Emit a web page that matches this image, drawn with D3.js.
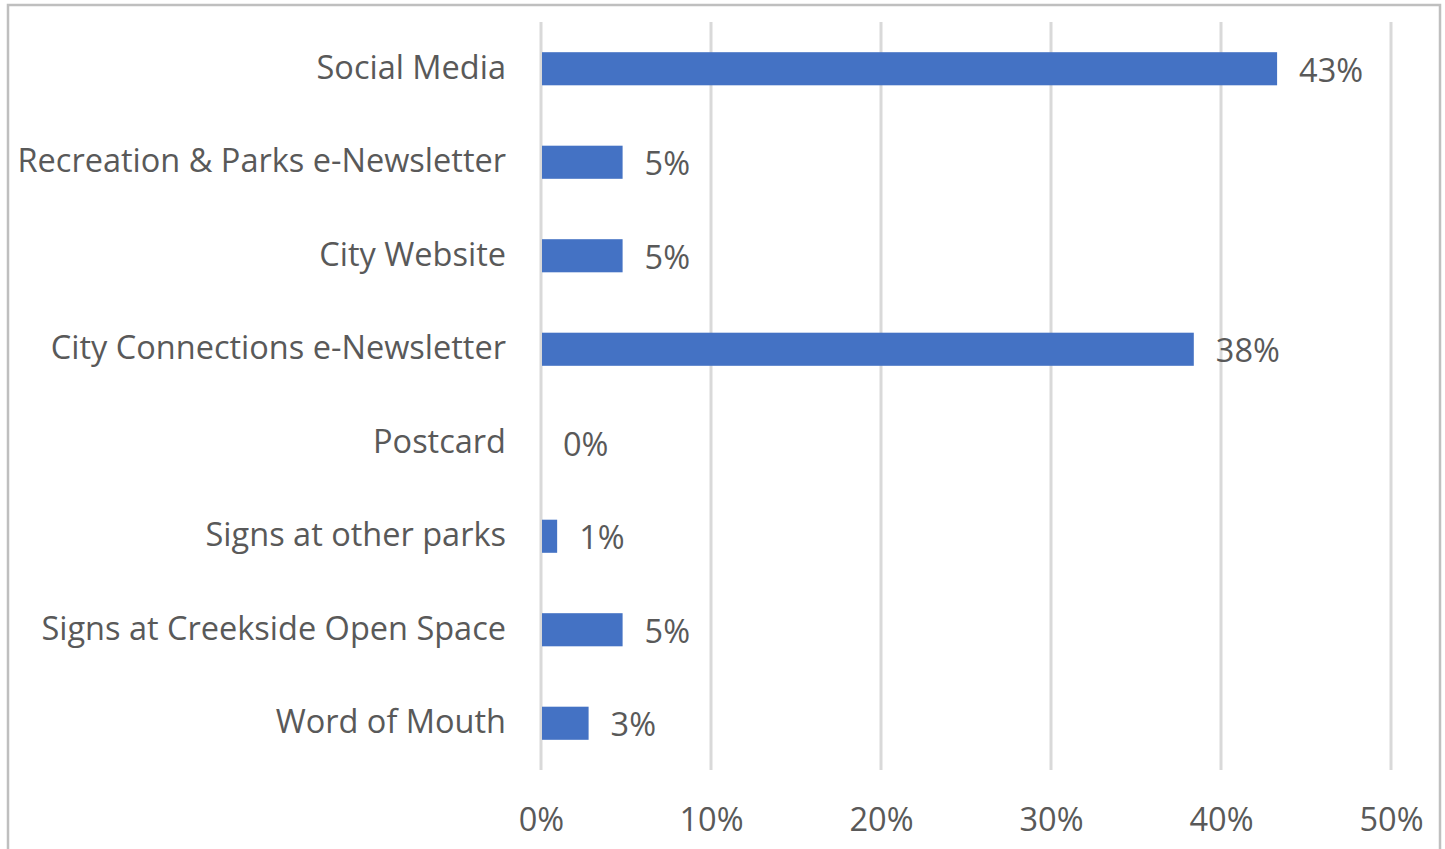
<!DOCTYPE html>
<html>
<head>
<meta charset="utf-8">
<script src="https://cdn.jsdelivr.net/npm/d3@7"></script>
<style>
  body { margin: 0; background: #fff; }
  text { font-family: "Open Sans", "Noto Sans", sans-serif; fill: #595959; }
</style>
</head>
<body>
<div id="chart-area"></div>
<script>
// data
var categories = ["Social Media", "Recreation & Parks e-Newsletter", "City Website",
    "City Connections e-Newsletter", "Postcard", "Signs at other parks",
    "Signs at Creekside Open Space", "Word of Mouth"]
var values = [0.433, 0.048, 0.048, 0.384, 0, 0.0095, 0.048, 0.028]
var valueLabels = ["43%", "5%", "5%", "38%", "0%", "1%", "5%", "3%"]
var ticks = [0, 0.1, 0.2, 0.3, 0.4, 0.5]

var data = categories.map(function(c, i){
    return { name: c, value: values[i], label: valueLabels[i] }
})

var W = 1445, H = 849
var fs = 32.5
var svg = d3.select("#chart-area").append("svg")
    .attr("width", W)
    .attr("height", H)

svg.append("rect").attr("width", W).attr("height", H).attr("fill", "#fff")

// chart border (bottom edge sits below the crop)
svg.append("rect")
    .attr("x", 8).attr("y", 5)
    .attr("width", 1432).attr("height", 900)
    .attr("fill", "none")
    .attr("stroke", "#bfbfbf")
    .attr("stroke-width", 2.5)

var x = d3.scaleLinear().domain([0, 0.5]).range([541, 1391])
var y = d3.scaleBand().domain(categories).range([22, 770])
    .paddingInner(0.646).paddingOuter(0.323)

// vertical gridlines
svg.append("g").selectAll("line")
    .data(ticks)
    .enter().append("line")
    .attr("x1", function(d){ return x(d) })
    .attr("x2", function(d){ return x(d) })
    .attr("y1", 22)
    .attr("y2", 770)
    .attr("stroke", "#d9d9d9")
    .attr("stroke-width", 3)

// x axis labels
var xAxis = d3.axisBottom(x).tickValues(ticks).tickFormat(d3.format(".0%")).tickSize(0).tickPadding(0)
var gx = svg.append("g").attr("transform", "translate(0,800)").call(xAxis)
gx.select(".domain").remove()
gx.selectAll("text")
    .attr("y", 0)
    .attr("dy", 31)
    .attr("font-size", fs)
    .attr("font-family", null)
    .attr("fill", "#595959")

// bars
svg.append("g").selectAll("rect")
    .data(data)
    .enter().append("rect")
    .attr("x", x(0) + 1)
    .attr("y", function(d){ return y(d.name) })
    .attr("width", function(d){ return Math.max(0, x(d.value) - x(0) - 1) })
    .attr("height", y.bandwidth())
    .attr("fill", "#4472c4")

// category labels
svg.append("g").selectAll("text")
    .data(data)
    .enter().append("text")
    .attr("x", 506)
    .attr("y", function(d){ return y(d.name) + y.bandwidth() / 2 + 10 })
    .attr("text-anchor", "end")
    .attr("font-size", fs)
    .text(function(d){ return d.name })

// value labels
svg.append("g").selectAll("text")
    .data(data)
    .enter().append("text")
    .attr("x", function(d){ return x(d.value) + 22 })
    .attr("y", function(d){ return y(d.name) + y.bandwidth() / 2 + 13 })
    .attr("font-size", fs)
    .text(function(d){ return d.label })
</script>
</body>
</html>
